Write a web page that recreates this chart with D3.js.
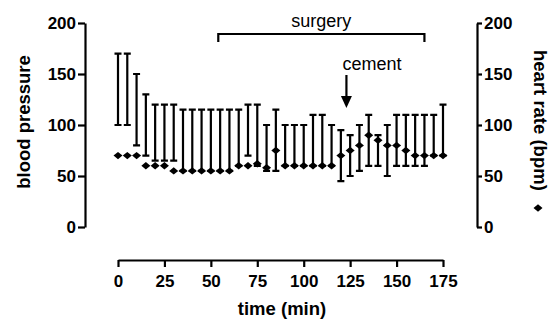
<!DOCTYPE html>
<html>
<head>
<meta charset="utf-8">
<script src="https://cdn.jsdelivr.net/npm/d3@7"></script>
<style>
  body { margin: 0; background: #fff; }
  svg { display: block; }
  text { font-family: "Liberation Sans", Arial, sans-serif; }
</style>
</head>
<body>
<div id="chart"></div>
<script>
// time points (min)
const times = [0, 5, 10, 15, 20, 25, 30, 35, 40, 45, 50, 55, 60, 65, 70, 75, 80, 85,
  90, 95, 100, 105, 110, 115, 120, 125, 130, 135, 140, 145, 150, 155, 160, 165, 170, 175];

// blood pressure range (top / bottom of each bar)
const bpHigh = [170, 170, 150, 130, 120, 120, 120, 115, 115, 115, 115, 115, 115, 115, 120, 120, 100, 115,
  100, 100, 100, 110, 110, 100, 95, 90, 100, 110, 90, 100, 110, 110, 110, 110, 110, 120];
const bpLow = [100, 100, 80, 70, 65, 65, 65, 55, 55, 55, 55, 55, 55, 60, 70, 60, 55, 55,
  60, 60, 60, 60, 60, 60, 45, 50, 55, 60, 60, 50, 60, 60, 60, 60, 70, 70];

// heart rate (diamonds)
const heartRate = [70, 70, 70, 60, 60, 60, 55, 55, 55, 55, 55, 55, 55, 60, 60, 62, 58, 75,
  60, 60, 60, 60, 60, 60, 70, 75, 80, 90, 85, 80, 80, 75, 70, 70, 70, 70];

const xTicks = [0, 25, 50, 75, 100, 125, 150, 175];
const yTicks = [0, 50, 100, 150, 200];
const surgerySpan = [54, 165];
const cementTime = 123;

const width = 551;
const height = 322;

const svg = d3.select("#chart")
  .append("svg")
  .attr("width", width)
  .attr("height", height);

// Scales
const x = d3.scaleLinear().domain([0, 175]).range([118, 443]);
const y = d3.scaleLinear().domain([0, 200]).range([227, 23]);

// Axes
const styleAxis = g => {
  g.attr("font-size", 17)
    .attr("font-weight", "bold")
    .attr("font-family", "'Liberation Sans', Arial, sans-serif");
  g.select(".domain").attr("stroke", "#000").attr("stroke-width", 2.2);
  g.selectAll(".tick line").attr("stroke", "#000").attr("stroke-width", 2.2);
  g.selectAll(".tick text").attr("fill", "#000");
};

svg.append("g")
  .attr("transform", "translate(85,0)")
  .call(d3.axisLeft(y).tickValues(yTicks).tickSize(7).tickPadding(2).tickSizeOuter(0))
  .call(styleAxis);

svg.append("g")
  .attr("transform", "translate(477,0)")
  .call(d3.axisRight(y).tickValues(yTicks).tickSize(5).tickPadding(2).tickSizeOuter(0))
  .call(styleAxis);

svg.append("g")
  .attr("transform", "translate(0,260)")
  .call(d3.axisBottom(x).tickValues(xTicks).tickSize(7).tickPadding(8).tickSizeOuter(0))
  .call(styleAxis);

// Axis titles
svg.append("text")
  .attr("transform", "translate(30,122) rotate(-90)")
  .attr("text-anchor", "middle")
  .attr("font-size", 18.5)
  .attr("font-weight", "bold")
  .text("blood pressure");

svg.append("text")
  .attr("transform", "translate(534,50) rotate(90)")
  .attr("text-anchor", "start")
  .attr("font-size", 18.5)
  .attr("font-weight", "bold")
  .text("heart rate (bpm)");

svg.append("text")
  .attr("x", 282)
  .attr("y", 315)
  .attr("text-anchor", "middle")
  .attr("font-size", 18.5)
  .attr("font-weight", "bold")
  .text("time (min)");

// wide diamond marker
const diamond = {
  draw(ctx, size) {
    const w = Math.sqrt(size) * 0.75, h = Math.sqrt(size) * 0.62;
    ctx.moveTo(-w, 0);
    ctx.lineTo(0, -h);
    ctx.lineTo(w, 0);
    ctx.lineTo(0, h);
    ctx.closePath();
  }
};
const marker = d3.symbol().type(diamond).size(36);

svg.append("path")
  .attr("transform", "translate(538,208)")
  .attr("d", marker)
  .attr("fill", "#000");

// Error bars
const cap = 3.5;
svg.append("g")
  .attr("stroke", "#000")
  .attr("stroke-width", 2.2)
  .attr("fill", "none")
  .selectAll("path")
  .data(times)
  .join("path")
  .attr("d", (t, i) => {
    const cx = x(t), hi = y(bpHigh[i]), lo = y(bpLow[i]);
    return `M${cx - cap},${hi}H${cx + cap}M${cx},${hi}V${lo}M${cx - cap},${lo}H${cx + cap}`;
  });

// Heart rate diamonds
svg.append("g")
  .selectAll("path")
  .data(times)
  .join("path")
  .attr("transform", (t, i) => `translate(${x(t)},${y(heartRate[i])})`)
  .attr("d", marker)
  .attr("fill", "#000");

// Surgery bracket
svg.append("path")
  .attr("d", `M${x(surgerySpan[0])},42V34H${x(surgerySpan[1])}V42`)
  .attr("fill", "none")
  .attr("stroke", "#000")
  .attr("stroke-width", 2.2);

svg.append("text")
  .attr("x", (x(surgerySpan[0]) + x(surgerySpan[1])) / 2)
  .attr("y", 27)
  .attr("text-anchor", "middle")
  .attr("font-size", 18)
  .text("surgery");

// Cement arrow
const ax = x(cementTime);
svg.append("line")
  .attr("x1", ax).attr("x2", ax)
  .attr("y1", 75).attr("y2", 98)
  .attr("stroke", "#000")
  .attr("stroke-width", 2.2);

svg.append("path")
  .attr("d", `M${ax - 5.5},96L${ax + 5.5},96L${ax},108Z`)
  .attr("fill", "#000");

svg.append("text")
  .attr("x", ax - 4)
  .attr("y", 70)
  .attr("text-anchor", "start")
  .attr("font-size", 18)
  .text("cement");
</script>
</body>
</html>
